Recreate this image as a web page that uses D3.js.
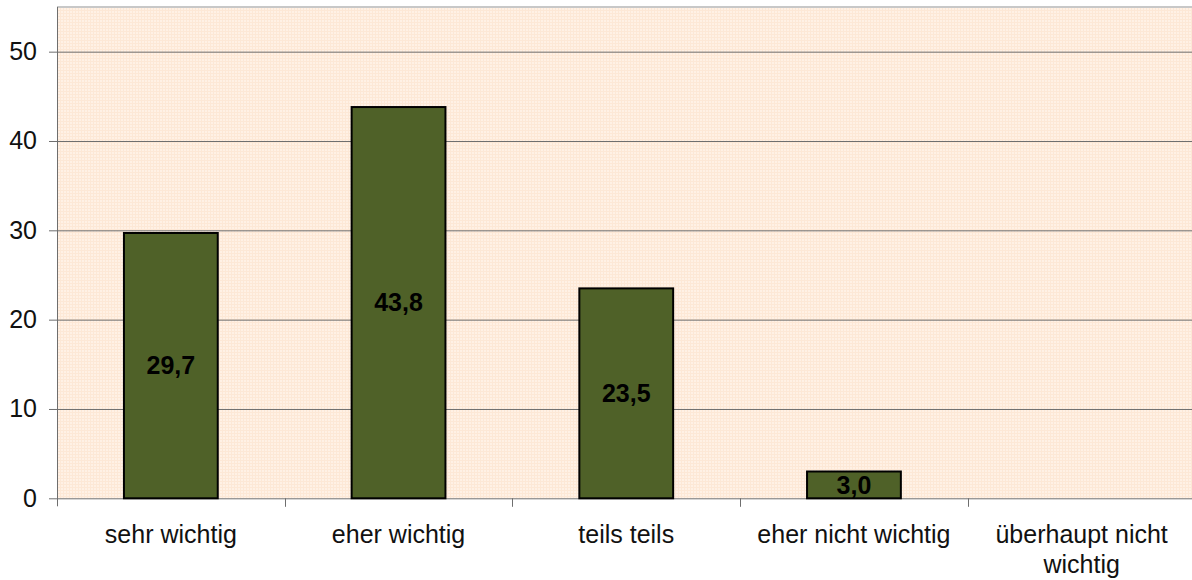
<!DOCTYPE html>
<html>
<head>
<meta charset="utf-8">
<script src="https://cdnjs.cloudflare.com/ajax/libs/d3/7.8.5/d3.min.js"></script>
<style>
  body { margin: 0; background: #fff; }
  text { font-family: "Liberation Sans", Arial, sans-serif; }
</style>
</head>
<body>
<div id="chart"></div>
<script>
// data
var categories = ["sehr wichtig", "eher wichtig", "teils teils", "eher nicht wichtig", "überhaupt nicht wichtig"];
var values = [29.7, 43.8, 23.5, 3.0, 0];
var yTicks = [0, 10, 20, 30, 40, 50];
var yMax = 55;

// set the dimensions and margins of the graph
var margin = { top: 7, right: -3.5, bottom: 81.7, left: 57 },
    width = 1192 - margin.left - margin.right,
    height = 580 - margin.top - margin.bottom;

var svg = d3.select("#chart")
    .append("svg")
    .attr("width", 1192)
    .attr("height", 580)
    .append("g")
    .attr("transform", "translate(" + margin.left + "," + margin.top + ")");

// background pattern
var defs = svg.append("defs");
var pat = defs.append("pattern")
    .attr("id", "bgpat")
    .attr("width", 3)
    .attr("height", 3)
    .attr("patternUnits", "userSpaceOnUse");
pat.append("rect").attr("width", 3).attr("height", 3).attr("fill", "#fff1e5");
pat.append("rect").attr("width", 3).attr("height", 1).attr("fill", "#fde8d6");
pat.append("rect").attr("width", 1).attr("height", 3).attr("fill", "#fde8d6");

svg.append("rect")
    .attr("width", width)
    .attr("height", height)
    .attr("fill", "url(#bgpat)");

// top border
svg.append("line")
    .attr("x1", 0).attr("x2", width)
    .attr("y1", 0).attr("y2", 0)
    .attr("stroke", "#c8c8c8")
    .attr("stroke-width", 2);

// scales
var x = d3.scaleBand()
    .domain(categories)
    .range([0, width])
    .padding(0);

var y = d3.scaleLinear()
    .domain([0, yMax])
    .range([height, 0]);

// gridlines
svg.append("g")
    .selectAll("line")
    .data(yTicks.filter(function (d) { return d > 0; }))
    .enter()
    .append("line")
    .attr("x1", 0).attr("x2", width)
    .attr("y1", function (d) { return y(d) + 0.5; })
    .attr("y2", function (d) { return y(d) + 0.5; })
    .attr("stroke", "#6e6e6e")
    .attr("stroke-width", 1);

// Y axis
var yAxis = svg.append("g")
    .call(d3.axisLeft(y).tickValues(yTicks).tickSize(8).tickPadding(12).tickSizeOuter(0));
yAxis.select(".domain").attr("stroke", "#6e6e6e").attr("d", "M0.5,0V" + (height + 8));
yAxis.selectAll(".tick line").attr("stroke", "#6e6e6e");
yAxis.selectAll(".tick text")
    .attr("font-size", "25px")
    .attr("fill", "#111")
    .style("font-family", "'Liberation Sans', Arial, sans-serif");

// X axis: ticks at category boundaries
var xAxis = svg.append("g")
    .attr("transform", "translate(0," + height + ")");
xAxis.append("line")
    .attr("x1", 0).attr("x2", width)
    .attr("y1", 0.5).attr("y2", 0.5)
    .attr("stroke", "#6e6e6e");
xAxis.selectAll("tickmark")
    .data(categories.slice(1))
    .enter()
    .append("line")
    .attr("x1", function (d) { return Math.round(x(d)) + 0.5; })
    .attr("x2", function (d) { return Math.round(x(d)) + 0.5; })
    .attr("y1", 0).attr("y2", 8.5)
    .attr("stroke", "#6e6e6e");

// X labels (wrap long ones)
xAxis.selectAll("xlabel")
    .data(categories)
    .enter()
    .append("text")
    .attr("text-anchor", "middle")
    .attr("font-size", "25px")
    .attr("fill", "#111")
    .each(function (d) {
        var lines = d == "überhaupt nicht wichtig" ? ["überhaupt nicht", "wichtig"] : [d];
        var t = d3.select(this);
        lines.forEach(function (l, i) {
            t.append("tspan")
                .attr("x", x(d) + x.bandwidth() / 2)
                .attr("y", 44.5 + i * 30)
                .text(l);
        });
    });

// bars
var barW = x.bandwidth() * 0.412;
svg.selectAll("bars")
    .data(values.map(function (v, i) { return { cat: categories[i], val: v }; }).filter(function (d) { return d.val > 0; }))
    .enter()
    .append("rect")
    .attr("x", function (d) { return x(d.cat) + x.bandwidth() / 2 - barW / 2; })
    .attr("y", function (d) { return y(d.val); })
    .attr("width", barW)
    .attr("height", function (d) { return height - y(d.val); })
    .attr("fill", "#4f6128")
    .attr("stroke", "#000")
    .attr("stroke-width", 2);

// value labels
svg.selectAll("vlabels")
    .data(values.map(function (v, i) { return { cat: categories[i], val: v }; }).filter(function (d) { return d.val > 0; }))
    .enter()
    .append("text")
    .attr("x", function (d) { return x(d.cat) + x.bandwidth() / 2; })
    .attr("y", function (d) { return (y(d.val) + height) / 2; })
    .attr("dy", "0.35em")
    .attr("text-anchor", "middle")
    .attr("font-size", "25px")
    .attr("font-weight", "bold")
    .attr("fill", "#000")
    .text(function (d) { return d3.format(".1f")(d.val).replace(".", ","); });
</script>
</body>
</html>
